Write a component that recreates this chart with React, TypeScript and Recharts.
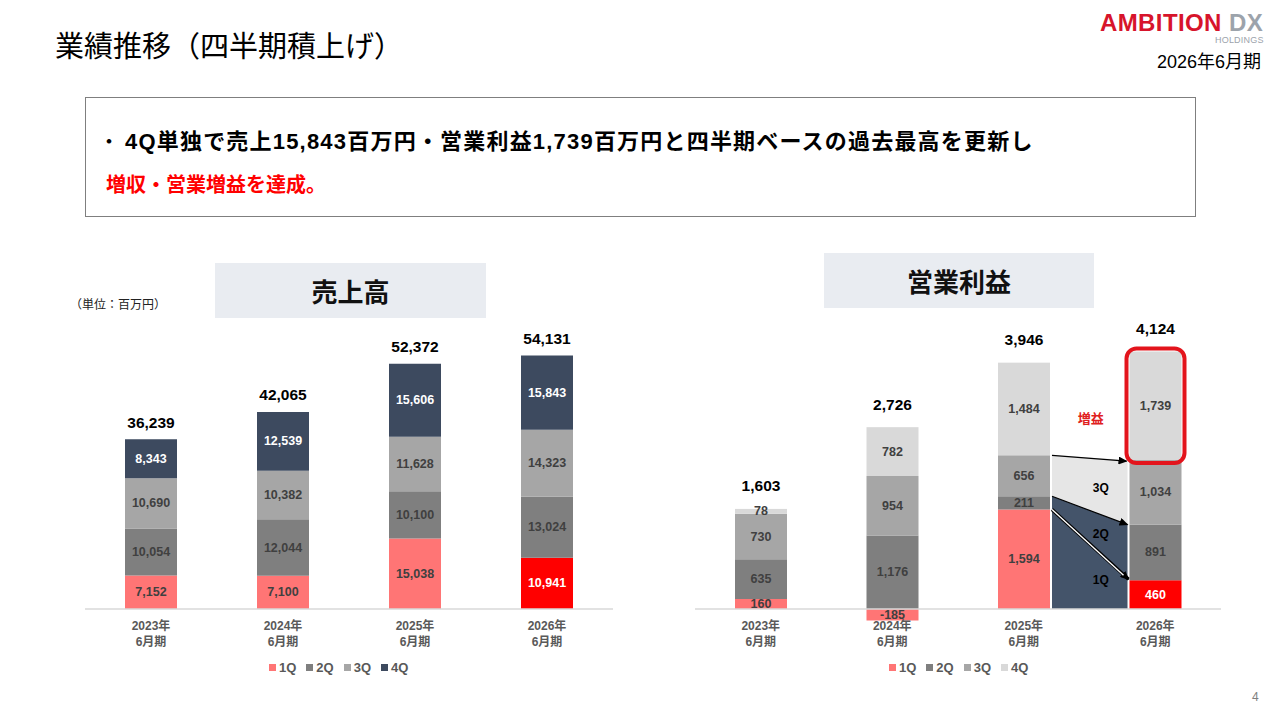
import { BarChart, Bar, XAxis, YAxis, Cell, LabelList, ReferenceLine } from "recharts";

const years = ["2023年", "2024年", "2025年", "2026年"];
const periodLabel = "6月期";
const quarters = ["1Q", "2Q", "3Q", "4Q"];

// 売上高（百万円）
const sales1Q = [7152, 7100, 15038, 10941];
const sales2Q = [10054, 12044, 10100, 13024];
const sales3Q = [10690, 10382, 11628, 14323];
const sales4Q = [8343, 12539, 15606, 15843];
const salesTotal = [36239, 42065, 52372, 54131];

// 営業利益（百万円）
const op1Q = [160, -185, 1594, 460];
const op2Q = [635, 1176, 211, 891];
const op3Q = [730, 954, 656, 1034];
const op4Q = [78, 782, 1484, 1739];
const opTotal = [1603, 2726, 3946, 4124];

const salesData = years.map((year, i) => ({
  year,
  q1: sales1Q[i],
  q2: sales2Q[i],
  q3: sales3Q[i],
  q4: sales4Q[i],
}));
const opData = years.map((year, i) => ({
  year,
  q1: op1Q[i],
  q2: op2Q[i],
  q3: op3Q[i],
  q4: op4Q[i],
}));

const FONT = '"Liberation Sans", "Noto Sans CJK JP", sans-serif';
const PINK = "#FF7575";
const RED = "#FF0000";
const GREY2 = "#7F7F7F";
const GREY3 = "#A6A6A6";
const NAVY = "#3D4A5F";
const LIGHT = "#D9D9D9";
const DARK_TXT = "#404040";

const CHART_W = 560;
const CHART_H = 380;
const OP_W = 570;
const OP_MARGIN = { top: 28, right: 19, bottom: 6, left: 25 };
const OP_STEP = (OP_W - OP_MARGIN.left - OP_MARGIN.right) / years.length;

const fmt = (v: number) => v.toLocaleString("en-US");

// ラベル（各セグメント中央）
const segLabel = (colorOf: (i: number) => string) => (p: any) => {
  const vb = p.viewBox ?? p;
  const { x, y, width, height } = vb;
  if (x == null || p.value == null) return null;
  return (
    <text
      x={x + width / 2}
      y={y + height / 2}
      textAnchor="middle"
      dominantBaseline="central"
      fontSize={12.5}
      fontWeight="bold"
      fontFamily={FONT}
      fill={colorOf(p.index)}
    >
      {fmt(Number(p.value))}
    </text>
  );
};

// 合計ラベル（積上げの上）
const totalLabel = (totals: number[], gap: number) => (p: any) => {
  const vb = p.viewBox ?? p;
  const { x, y, width, height } = vb;
  if (x == null) return null;
  const top = Math.min(y, y + height);
  return (
    <text
      x={x + width / 2}
      y={top - gap}
      textAnchor="middle"
      dominantBaseline="central"
      fontSize={15.5}
      fontWeight="bold"
      fontFamily={FONT}
      fill="#000"
    >
      {fmt(totals[p.index])}
    </text>
  );
};

const YearTick = (shift: number) => (p: any) => {
  const { x, y, payload } = p;
  return (
    <g fontFamily={FONT} fontSize={12} fontWeight="bold" fill="#595959">
      <text x={x} y={y + shift + 9} textAnchor="middle" dominantBaseline="central">
        {payload.value}
      </text>
      <text x={x} y={y + shift + 25} textAnchor="middle" dominantBaseline="central">
        {periodLabel}
      </text>
    </g>
  );
};

// 営業利益 4Q：2025→2026 のブリッジと赤枠
const OpQ4Shape = (p: any) => {
  const { x, y, width, height, fill } = p;
  const idx = p.index ?? years.indexOf(p.payload?.year);
  const rect = <rect x={x} y={y} width={width} height={height} fill={fill} />;
  if (idx === 3) {
    return (
      <g>
        {rect}
        <rect
          x={x - 3}
          y={y - 3}
          width={width + 6}
          height={height + 6}
          rx={10}
          fill="none"
          stroke="#E3141C"
          strokeWidth={4}
        />
      </g>
    );
  }
  if (idx !== 2) return rect;
  const a = 2;
  const b = 3;
  const k = height / op4Q[a];
  const base = y + height + (op1Q[a] + op2Q[a] + op3Q[a]) * k;
  const yv = (v: number) => base - v * k;
  const c1a = op1Q[a];
  const c2a = c1a + op2Q[a];
  const c3a = c2a + op3Q[a];
  const c1b = op1Q[b];
  const c2b = c1b + op2Q[b];
  const c3b = c2b + op3Q[b];
  const x0 = x + width + 2;
  const x1 = x + OP_STEP - 2;
  const mid = (x0 + x1) / 2 + 11;
  const lbl = { fontSize: 12, fontWeight: "bold", fontFamily: FONT, textAnchor: "middle" as const, dominantBaseline: "central" as const };
  return (
    <g>
      <defs>
        <marker id="arrowHead" markerWidth="9" markerHeight="8" refX="8" refY="4" orient="auto" markerUnits="userSpaceOnUse">
          <path d="M0,0 L9,4 L0,8 Z" fill="#000" />
        </marker>
      </defs>
      {rect}
      <polygon
        points={`${x0},${yv(c3a)} ${x1},${yv(c3b)} ${x1},${yv(c2b)} ${x0},${yv(c2a)}`}
        fill="#E6E6E6"
      />
      <polygon
        points={`${x0},${yv(c2a)} ${x1},${yv(c2b)} ${x1},${base} ${x0},${base}`}
        fill="#44546A"
      />
      <line x1={x0} y1={yv(c3a)} x2={x1 - 1} y2={yv(c3b) + 1} stroke="#000" strokeWidth={1.2} markerEnd="url(#arrowHead)" />
      <line x1={x0} y1={yv(c2a)} x2={x1} y2={yv(c2b)} stroke="#000" strokeWidth={1.2} markerEnd="url(#arrowHead)" />
      <line x1={x0} y1={yv(c1a)} x2={x1 + 1} y2={yv(c1b) - 1} stroke="#000" strokeWidth={3.6} markerEnd="url(#arrowHead)" />
      <line x1={x0} y1={yv(c1a)} x2={x1 - 4} y2={yv(c1b) - 5} stroke="#fff" strokeWidth={1.4} />
      <text x={mid} y={base - 121} fill="#000" {...lbl}>3Q</text>
      <text x={mid} y={base - 75} fill="#000" {...lbl}>2Q</text>
      <text x={mid} y={base - 29} fill="#000" {...lbl}>1Q</text>
      <text x={mid - 10} y={base - 191} fill="#E02020" {...lbl} fontSize={13}>増益</text>
    </g>
  );
};

function LegendRow({ colors, left, top }: { colors: string[]; left: number; top: number }) {
  return (
    <div
      style={{
        position: "absolute",
        left,
        top,
        display: "flex",
        alignItems: "center",
        gap: 10,
        fontFamily: FONT,
        fontSize: 13,
        fontWeight: "bold",
        color: "#595959",
        lineHeight: "15px",
      }}
    >
      {quarters.map((q, i) => (
        <div key={q} style={{ display: "flex", alignItems: "center", gap: 3 }}>
          <span style={{ width: 7, height: 7, background: colors[i], display: "inline-block" }} />
          <span>{q}</span>
        </div>
      ))}
    </div>
  );
}

function T({ x, y, size, children, style }: any) {
  return (
    <div
      style={{
        position: "absolute",
        left: x,
        top: y,
        transform: "translateY(-50%)",
        fontSize: size,
        lineHeight: 1,
        fontFamily: FONT,
        whiteSpace: "nowrap",
        ...style,
      }}
    >
      {children}
    </div>
  );
}

const headerBox = {
  position: "absolute" as const,
  width: 271,
  height: 55,
  background: "#E9ECF1",
  display: "flex",
  alignItems: "center",
  justifyContent: "center",
  fontSize: 26,
  fontWeight: 600,
  color: "#111",
};

function SalesChart() {
  return (
    <BarChart
      width={CHART_W}
      height={CHART_H}
      data={salesData}
      margin={{ top: 28, right: 7, bottom: 31, left: 25 }}
    >
      <XAxis dataKey="year" axisLine={false} tickLine={false} height={40} tick={YearTick(0)} interval={0} />
      <YAxis hide domain={[0, 60000]} />
      <ReferenceLine y={0} stroke="#D9D9D9" strokeWidth={1.5} />
      <Bar dataKey="q1" stackId="s" barSize={52} isAnimationActive={false}>
        {salesData.map((_, i) => (
          <Cell key={i} fill={i === 3 ? RED : PINK} />
        ))}
        <LabelList dataKey="q1" content={segLabel((i) => (i === 3 ? "#fff" : DARK_TXT))} />
      </Bar>
      <Bar dataKey="q2" stackId="s" barSize={52} fill={GREY2} isAnimationActive={false}>
        <LabelList dataKey="q2" content={segLabel(() => DARK_TXT)} />
      </Bar>
      <Bar dataKey="q3" stackId="s" barSize={52} fill={GREY3} isAnimationActive={false}>
        <LabelList dataKey="q3" content={segLabel(() => DARK_TXT)} />
      </Bar>
      <Bar dataKey="q4" stackId="s" barSize={52} fill={NAVY} isAnimationActive={false}>
        <LabelList dataKey="q4" content={segLabel(() => "#fff")} />
        <LabelList dataKey="q4" content={totalLabel(salesTotal, 17)} />
      </Bar>
    </BarChart>
  );
}

function OpChart() {
  return (
    <BarChart width={OP_W} height={CHART_H} data={opData} stackOffset="sign" margin={OP_MARGIN}>
      <XAxis dataKey="year" axisLine={false} tickLine={false} height={40} tick={YearTick(-25)} interval={0} />
      <YAxis hide domain={[-400, 4500]} />
      <ReferenceLine y={0} stroke="#D9D9D9" strokeWidth={1.5} />
      <Bar dataKey="q1" stackId="o" barSize={52} isAnimationActive={false}>
        {opData.map((_, i) => (
          <Cell key={i} fill={i === 3 ? RED : PINK} />
        ))}
        <LabelList dataKey="q1" content={segLabel((i) => (i === 3 ? "#fff" : DARK_TXT))} />
      </Bar>
      <Bar dataKey="q2" stackId="o" barSize={52} fill={GREY2} isAnimationActive={false}>
        <LabelList dataKey="q2" content={segLabel(() => DARK_TXT)} />
      </Bar>
      <Bar dataKey="q3" stackId="o" barSize={52} fill={GREY3} isAnimationActive={false}>
        <LabelList dataKey="q3" content={segLabel(() => DARK_TXT)} />
      </Bar>
      <Bar dataKey="q4" stackId="o" barSize={52} fill={LIGHT} shape={OpQ4Shape} isAnimationActive={false}>
        <LabelList dataKey="q4" content={segLabel(() => DARK_TXT)} />
        <LabelList dataKey="q4" content={totalLabel(opTotal, 23)} />
      </Bar>
    </BarChart>
  );
}

export default function App() {
  return (
    <div
      style={{
        position: "absolute",
        left: 0,
        top: 0,
        width: 1280,
        height: 720,
        background: "#fff",
        overflow: "hidden",
        fontFamily: FONT,
      }}
    >
      <T x={55} y={47} size={29} style={{ color: "#000" }}>
        業績推移（四半期積上げ）
      </T>

      <T x={1100} y={23} size={24} style={{ fontWeight: 900, letterSpacing: 0.4 }}>
        <span style={{ color: "#D7142B" }}>AMBITION</span>{" "}
        <span style={{ color: "#9CA3AB" }}>DX</span>
      </T>
      <T x={1215} y={40} size={9} style={{ color: "#9CA3AB", letterSpacing: 0.2 }}>
        HOLDINGS
      </T>
      <T x={1157} y={62} size={18} style={{ color: "#000" }}>
        2026年6月期
      </T>

      <div
        style={{
          position: "absolute",
          left: 85,
          top: 97,
          width: 1109,
          height: 118,
          border: "1px solid #7F7F7F",
        }}
      />
      <T x={100} y={142} size={18} style={{ fontWeight: "bold" }}>
        ・
      </T>
      <T x={125} y={142} size={22} style={{ fontWeight: "bold", letterSpacing: 1.2, color: "#000" }}>
        4Q単独で売上15,843百万円・営業利益1,739百万円と四半期ベースの過去最高を更新し
      </T>
      <T x={106} y={185} size={20} style={{ fontWeight: "bold", color: "#FF0000" }}>
        増収・営業増益を達成。
      </T>

      <div style={{ ...headerBox, left: 215, top: 263 }}>売上高</div>
      <div style={{ ...headerBox, left: 824, top: 253, width: 270 }}>営業利益</div>
      <T x={70} y={305} size={12} style={{ color: "#222" }}>
        （単位：百万円）
      </T>

      <div style={{ position: "absolute", left: 60, top: 300 }}>
        <SalesChart />
      </div>
      <div style={{ position: "absolute", left: 670, top: 300 }}>
        <OpChart />
      </div>

      <LegendRow colors={[PINK, GREY2, GREY3, NAVY]} left={269} top={660} />
      <LegendRow colors={[PINK, GREY2, GREY3, LIGHT]} left={889} top={660} />

      <T x={1252} y={697} size={12} style={{ color: "#7F7F7F" }}>
        4
      </T>
    </div>
  );
}
